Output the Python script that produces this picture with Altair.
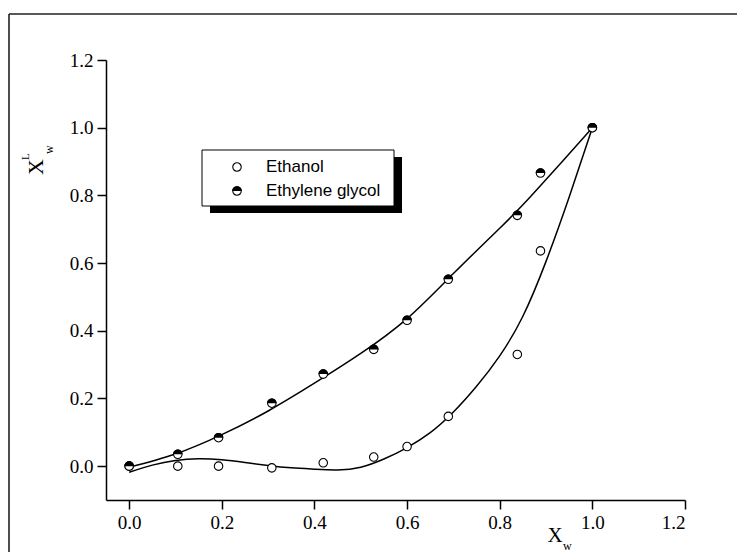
import altair as alt
import pandas as pd

x_obs = [0.0, 0.105, 0.193, 0.308, 0.419, 0.528, 0.600, 0.689, 0.838, 0.888, 1.0]
ethanol_obs = [0.0, 0.0, 0.0, -0.005, 0.010, 0.027, 0.058, 0.147, 0.330, 0.636, 1.0]
eg_obs = [0.0, 0.035, 0.084, 0.186, 0.272, 0.345, 0.431, 0.552, 0.741, 0.866, 1.0]

# fitted curves
ethanol_fit_x = [0.0, 0.05, 0.1, 0.15, 0.2, 0.25, 0.3, 0.35, 0.4, 0.45, 0.5,
                 0.55, 0.6, 0.65, 0.7, 0.75, 0.8, 0.85, 0.9, 0.95, 1.0]
ethanol_fit = [-0.018, 0.003, 0.017, 0.022, 0.019, 0.011, 0.002, -0.005, -0.009,
               -0.011, -0.003, 0.021, 0.055, 0.099, 0.160, 0.236, 0.326, 0.443,
               0.605, 0.795, 1.0]
eg_fit_x = [0.0, 0.1, 0.2, 0.3, 0.4, 0.5, 0.6, 0.7, 0.8, 0.85, 0.9, 0.95, 1.0]
eg_fit = [-0.003, 0.036, 0.093, 0.163, 0.245, 0.333, 0.436, 0.569, 0.703, 0.772,
          0.847, 0.923, 1.0]

x_ticks = [0.0, 0.2, 0.4, 0.6, 0.8, 1.0, 1.2]
y_ticks = [0.0, 0.2, 0.4, 0.6, 0.8, 1.0, 1.2]
legend_labels = ["Ethanol", "Ethylene glycol"]

obs = pd.DataFrame({"x": x_obs, "ethanol": ethanol_obs, "eg": eg_obs})
fit_e = pd.DataFrame({"x": ethanol_fit_x, "y": ethanol_fit})
fit_g = pd.DataFrame({"x": eg_fit_x, "y": eg_fit})
one = pd.DataFrame({"a": [0]})

xs = alt.Scale(domain=[-0.05, 1.2], nice=False, zero=False)
ys = alt.Scale(domain=[-0.1, 1.2], nice=False, zero=False)
ax_style = dict(format=".1f", title=None, labelFont="Liberation Serif", labelFontSize=19,
                labelColor="black", tickSize=9, tickWidth=1.5, domainWidth=1.5,
                domainColor="black", tickColor="black", grid=False, labelPadding=4)
xax = alt.Axis(values=x_ticks, **ax_style)
yax = alt.Axis(values=y_ticks, **ax_style)


def X(field):
    return alt.X(field, scale=xs, axis=xax)


def Y(field):
    return alt.Y(field, scale=ys, axis=yax)


HALF = "M-1,0 A1,1 0 0 1 1,0 Z"

line_e = alt.Chart(fit_e).mark_line(color="black", strokeWidth=1.5, interpolate="natural").encode(
    x=X("x:Q"), y=Y("y:Q"))
line_g = alt.Chart(fit_g).mark_line(color="black", strokeWidth=1.5, interpolate="natural").encode(
    x=X("x:Q"), y=Y("y:Q"))

pts_e = alt.Chart(obs).mark_point(shape="circle", size=72, filled=False, fill="white",
                                  stroke="black", strokeWidth=1.1, opacity=1).encode(
    x=X("x:Q"), y=Y("ethanol:Q"))
pts_g = alt.Chart(obs).mark_point(shape="circle", size=72, filled=False, fill="white",
                                  stroke="black", strokeWidth=1.1, opacity=1).encode(
    x=X("x:Q"), y=Y("eg:Q"))
pts_g_half = alt.Chart(obs).mark_point(shape=HALF, size=92, filled=True, color="black",
                                       opacity=1).encode(
    x=X("x:Q"), y=Y("eg:Q"))

# outer frame
frame_top = alt.Chart(one).mark_rule(color="#222", strokeWidth=1.6).encode(
    x=alt.value(-97), x2=alt.value(650), y=alt.value(-46))
frame_left = alt.Chart(one).mark_rule(color="#222", strokeWidth=1.6).encode(
    x=alt.value(-97), y=alt.value(-46), y2=alt.value(510))

# legend box with shadow
shadow = alt.Chart(one).mark_rect(color="black").encode(
    x=alt.value(104), x2=alt.value(296), y=alt.value(97), y2=alt.value(153))
box = alt.Chart(one).mark_rect(fill="white", stroke="black", strokeWidth=1).encode(
    x=alt.value(96), x2=alt.value(288), y=alt.value(90), y2=alt.value(146))
leg_e = alt.Chart(one).mark_point(shape="circle", size=72, filled=False, fill="white",
                                  stroke="black", strokeWidth=1.1, opacity=1).encode(
    x=alt.value(131), y=alt.value(107))
leg_g = alt.Chart(one).mark_point(shape="circle", size=72, filled=False, fill="white",
                                  stroke="black", strokeWidth=1.1, opacity=1).encode(
    x=alt.value(131), y=alt.value(131))
leg_g_half = alt.Chart(one).mark_point(shape=HALF, size=92, filled=True, color="black",
                                       opacity=1).encode(
    x=alt.value(131), y=alt.value(131))
leg_t1 = alt.Chart(one).mark_text(text=legend_labels[0], font="Liberation Sans", fontSize=17,
                                  align="left", baseline="middle", color="black").encode(
    x=alt.value(160), y=alt.value(107))
leg_t2 = alt.Chart(one).mark_text(text=legend_labels[1], font="Liberation Sans", fontSize=17,
                                  align="left", baseline="middle", color="black").encode(
    x=alt.value(160), y=alt.value(131))

# axis titles
xt = alt.Chart(one).mark_text(text="X", font="Liberation Serif", fontSize=21,
                              align="center", baseline="alphabetic", color="black").encode(
    x=alt.value(449), y=alt.value(482))
xt_sub = alt.Chart(one).mark_text(text="w", font="Liberation Serif", fontSize=12,
                                  align="left", baseline="alphabetic", color="black").encode(
    x=alt.value(457), y=alt.value(490))
yt = alt.Chart(one).mark_text(text="X", font="Liberation Serif", fontSize=22, angle=270,
                              align="center", baseline="alphabetic", color="black").encode(
    x=alt.value(-63), y=alt.value(107))
yt_sup = alt.Chart(one).mark_text(text="L", font="Liberation Serif", fontSize=11, angle=270,
                                  align="left", baseline="alphabetic", color="black").encode(
    x=alt.value(-77), y=alt.value(100))
yt_sub = alt.Chart(one).mark_text(text="w", font="Liberation Serif", fontSize=12, angle=270,
                                  align="left", baseline="alphabetic", color="black").encode(
    x=alt.value(-53), y=alt.value(94))

chart = alt.layer(
    frame_top, frame_left, line_e, line_g, pts_e, pts_g, pts_g_half,
    shadow, box, leg_e, leg_g, leg_g_half, leg_t1, leg_t2,
    xt, xt_sub, yt, yt_sup, yt_sub,
).properties(
    width=579, height=440,
    autosize=alt.AutoSizeParams(type="none"),
    padding={"left": 98, "top": 52, "right": 52, "bottom": 52},
    background="white",
).configure_view(stroke=None)

chart.save("out.html", embed_options={"renderer": "svg", "actions": False})
